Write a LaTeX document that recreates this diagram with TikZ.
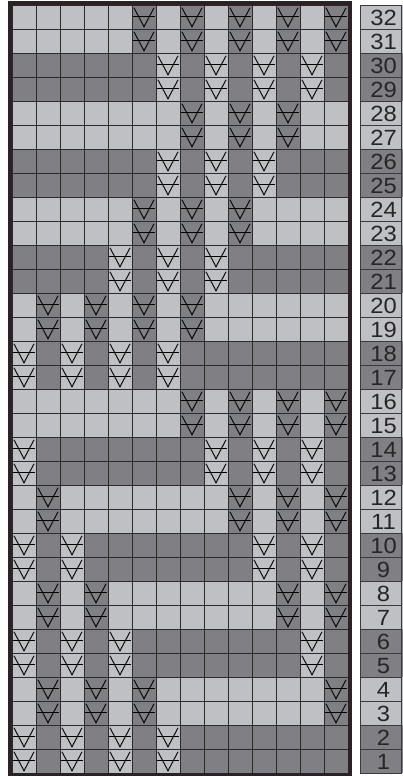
\documentclass[tikz,border=0pt]{standalone}
\usepackage{fontspec}
\setmainfont{Liberation Sans}
\definecolor{lgt}{HTML}{BFC0C4}
\definecolor{drk}{HTML}{808084}
\definecolor{gridc}{HTML}{2B2B2B}
\definecolor{framec}{HTML}{2A2224}
\definecolor{boxc}{HTML}{3A3A3A}
\tikzset{
  vmark/.style={black, line width=0.9pt},
  gridline/.style={gridc, line width=1pt},
  labbox/.style={boxc, line width=0.9pt},
  lab/.style={font=\fontsize{22}{22}\selectfont, text=black!85, inner sep=0pt, anchor=center, xscale=1.08}
}
\begin{document}
\begin{tikzpicture}[x=1pt,y=-1pt]
\useasboundingbox (0,0) rectangle (402,776);
\fill[white] (0,0) rectangle (402,776);
\foreach \p/\base/\alt/\cols in {
  0/lgt/drk/{6,8,10,12,14},
  1/drk/lgt/{7,9,11,13},
  2/lgt/drk/{8,10,12},
  3/drk/lgt/{7,9,11},
  4/lgt/drk/{6,8,10},
  5/drk/lgt/{5,7,9},
  6/lgt/drk/{2,4,6,8},
  7/drk/lgt/{1,3,5,7},
  8/lgt/drk/{8,10,12,14},
  9/drk/lgt/{1,9,11,13},
  10/lgt/drk/{2,10,12,14},
  11/drk/lgt/{1,3,11,13},
  12/lgt/drk/{2,4,12,14},
  13/drk/lgt/{1,3,5,13},
  14/lgt/drk/{2,4,6,14},
  15/drk/lgt/{1,3,5,7}}{
  \foreach \k in {0,1}{
    \pgfmathsetmacro\yt{5.3+24*(2*\p+\k)}
    \pgfmathtruncatemacro\labnum{32-2*\p-\k}
    \fill[\base] (12,\yt) rectangle (348,\yt+24);
    \foreach \c in \cols {
      \fill[\alt] ({12+24*(\c-1)},\yt) rectangle ++(24,24);
    }
    \fill[\base] (360,\yt) rectangle (403,\yt+24);
    \draw[labbox] (360,\yt) rectangle (401,\yt+24);
    \node[lab] (n\labnum) at (383.5,\yt+12.5) {\labnum};
  }
}
% grid lines
\foreach \i in {0,...,14}{
  \draw[gridline] ({12+24*\i},5.3) -- ({12+24*\i},773.3);
}
\foreach \j in {0,...,32}{
  \draw[gridline] (12,{5.3+24*\j}) -- (348,{5.3+24*\j});
}
% V marks
\foreach \p/\cols in {
  0/{6,8,10,12,14}, 1/{7,9,11,13}, 2/{8,10,12}, 3/{7,9,11},
  4/{6,8,10}, 5/{5,7,9}, 6/{2,4,6,8}, 7/{1,3,5,7},
  8/{8,10,12,14}, 9/{1,9,11,13}, 10/{2,10,12,14}, 11/{1,3,11,13},
  12/{2,4,12,14}, 13/{1,3,5,13}, 14/{2,4,6,14}, 15/{1,3,5,7}}{
  \foreach \k in {0,1}{
    \pgfmathsetmacro\yt{5.3+24*(2*\p+\k)}
    \foreach \c in \cols {
      \pgfmathsetmacro\xl{12+24*(\c-1)}
      \draw[vmark] (\xl+2,\yt+2.5) -- (\xl+12,\yt+21.5) -- (\xl+22,\yt+2.5);
      \draw[vmark] (\xl+1,\yt+11) -- (\xl+23,\yt+11);
    }
  }
}
% frame
\draw[framec, line width=3.8pt] (10,3.4) rectangle (350,775.2);
\end{tikzpicture}
\end{document}
